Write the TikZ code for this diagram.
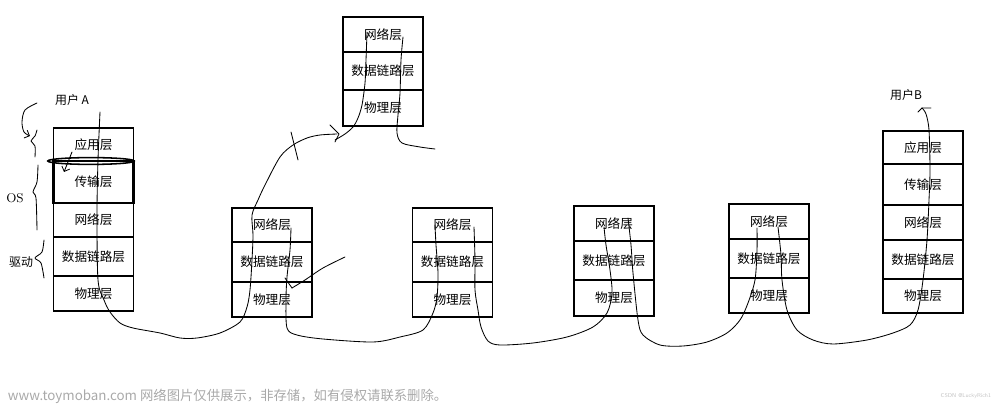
\documentclass[tikz,border=0pt]{standalone}
\usepackage{fontspec}
\newfontfamily\cjk{Noto Sans CJK SC}
\usetikzlibrary{arrows.meta}
\definecolor{wmgray}{HTML}{A9A9A9}
\tikzset{
  layer/.style={draw,line width=1.3pt,minimum width=2cm,inner sep=0pt,
    font=\cjk\fontsize{9}{10}\selectfont},
  rowh/.style={minimum height=#1*0.025cm},
  thickrow/.style={line width=1.9pt},
  hand/.style={line width=0.6pt,line join=round,line cap=round},
  tag/.style={font=\cjk\fontsize{8.5}{10}\selectfont},
}

\begin{document}
\begin{tikzpicture}[x=0.025cm,y=-0.025cm,>=Stealth]
\useasboundingbox (0,0) rectangle (1000,405);
% 用户A 的五层
\node[layer,rowh=33] (a1) at (93.5,144.5) {应用层};
\node[layer,rowh=42,thickrow] (a2) at (93.5,182) {传输层};
\node[layer,rowh=34] (a3) at (93.5,220) {网络层};
\node[layer,rowh=39] (a4) at (93.5,256.5) {数据链路层};
\node[layer,rowh=35] (a5) at (93.5,293.5) {物理层};
% 顶部路由器
\node[layer,rowh=35] (t1) at (383,34.5) {网络层};
\node[layer,rowh=38] (t2) at (383,71) {数据链路层};
\node[layer,rowh=36] (t3) at (383,108) {物理层};
% 中间路由器
\node[layer,rowh=34] (r1) at (272,225) {网络层};
\node[layer,rowh=40] (r2) at (272,262) {数据链路层};
\node[layer,rowh=35] (r3) at (272,299.5) {物理层};
\node[layer,rowh=34] (s1) at (452.5,225) {网络层};
\node[layer,rowh=40] (s2) at (452.5,262) {数据链路层};
\node[layer,rowh=35] (s3) at (452.5,299.5) {物理层};
\node[layer,rowh=35] (u1) at (614,223.5) {网络层};
\node[layer,rowh=39] (u2) at (614,260.5) {数据链路层};
\node[layer,rowh=36] (u3) at (614,298) {物理层};
\node[layer,rowh=35] (v1) at (769,221.5) {网络层};
\node[layer,rowh=39] (v2) at (769,258.5) {数据链路层};
\node[layer,rowh=35] (v3) at (769,295.5) {物理层};
% 用户B 的五层
\node[layer,rowh=33] (b1) at (923,147.5) {应用层};
\node[layer,rowh=41,thickrow] (b2) at (923,184.5) {传输层};
\node[layer,rowh=35] (b3) at (923,222.5) {网络层};
\node[layer,rowh=39] (b4) at (923,259.5) {数据链路层};
\node[layer,rowh=34] (b5) at (923,296) {物理层};
% 标注
\node[tag] (ua) at (72,100) {用户 A};
\node[tag] (ub) at (906,95) {用户B};
\node[font=\fontsize{9}{10}\selectfont] (os) at (15,198) {OS};
\node[tag] (qd) at (21,262) {驱动};
% 应用层与传输层之间的圈
\draw[line width=1.1pt] (91,161) ellipse [x radius=1.08cm,y radius=0.085cm];
\draw[hand,->,>={Straight Barb[length=3pt]}] (72,152) -- (64,172);
% 左侧括号
\draw[hand,->,>={Straight Barb[length=3pt]}] plot[smooth] coordinates {(37,103) (25,110) (22,122) (24,132) (30,136)};
\draw[hand] plot[smooth] coordinates {(37,130) (35,136) (31,141) (35,146) (35,157)};
\draw[hand] plot[smooth] coordinates {(38,165) (37,182) (33,192) (36,198) (37,230)};
\draw[hand] plot[smooth] coordinates {(44,240) (42,252) (35,258) (41,263) (44,278)};
% 数据路径（手绘）
\draw[hand] plot[smooth] coordinates {(100,112) (98,160) (97,213) (98,280) (104,300)
  (110,312) (120,323) (133,328) (160,333) (180,338) (197,338) (220,333) (240,322)
  (247,307) (250,290) (252,260) (253,235) (252,215) (258,200) (265,185) (280,157)
  (293,145) (307,138) (320,135) (337,134)};
\draw[hand] (330,125) -- (339,134) -- (335,142);
\draw[hand] (291,132) -- (298,160);
\draw[hand] plot[smooth] coordinates {(367,33) (366,60) (365,83) (362,105) (358,118)
  (353,127) (345,134) (335,140)};
\draw[hand] plot[smooth] coordinates {(403,37) (401,60) (400,93) (398,115) (397,133)
  (402,143) (420,147) (435,149)};
\draw[hand] plot[smooth] coordinates {(291,228) (290,250) (287,277) (286,300) (287,328)
  (297,335) (323,339) (373,342) (400,337) (423,330) (433,313) (437,297) (438,273)
  (436,245) (435,225)};
\draw[hand] (285,278) -- (292,288);
\draw[hand] plot[smooth] coordinates {(292,288) (305,280) (323,268) (345,257)};
\draw[hand] plot[smooth] coordinates {(474,227) (475,260) (475,290) (478,310) (481,327)
  (488,341) (500,345) (533,343) (567,337) (593,327) (607,313) (612,293) (610,270)
  (606,245) (604,227)};
\draw[hand] plot[smooth] coordinates {(628,218) (631,245) (633,273) (638,320) (643,335)
  (660,345) (683,346) (707,342) (727,333) (740,320) (748,303) (755,280) (757,250)
  (757,228)};
\draw[hand] plot[smooth] coordinates {(778,227) (781,255) (782,280) (787,310) (797,330)
  (813,340) (833,344) (867,340) (893,333) (910,325) (918,310) (923,280) (927,240)
  (929,200) (930,170) (929,130) (926,114) (922,108)};
\draw[hand] (918,112) -- (922,108) -- (931,108);
% 水印
\node[anchor=west,text=wmgray,font=\cjk\fontsize{9.5}{10}\selectfont] (wm) at (3,396)
  {www.toymoban.com 网络图片仅供展示，非存储，如有侵权请联系删除。};
\node[anchor=east,text=wmgray!70,font=\fontsize{4}{5}\selectfont\sffamily] (csdn) at (996,396)
  {CSDN @LuckyRich1};
\end{tikzpicture}
\end{document}
